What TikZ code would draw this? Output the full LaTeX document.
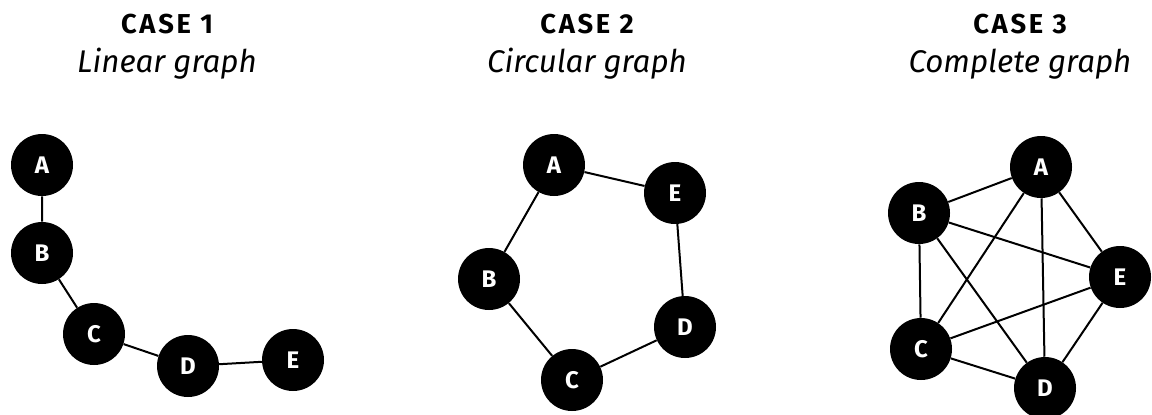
\documentclass[tikz,border=0pt]{standalone}
\usepackage{fontspec}
\setmainfont{Fira Sans}
\newfontfamily\casefont[LetterSpace=10,UprightFont={* Bold}]{Fira Sans}
\usepackage{tikz}

\begin{document}
\begin{tikzpicture}[x=0.75pt,y=-0.75pt,
  vertex/.style={circle,fill=black,draw=none,minimum size=46.5pt,inner sep=0pt,
    text=white,font=\fontsize{18}{18}\selectfont\bfseries},
  edge/.style={line width=1.5pt},
  casetitle/.style={font=\fontsize{20.5}{20.5}\selectfont\casefont},
  subtitle/.style={font=\fontsize{23.5}{23.5}\selectfont\itshape}]
\useasboundingbox (0,0) rectangle (1152,414);
% titles
\node[casetitle,anchor=base] (t1) at (167,33) {CASE 1};
\node[subtitle,anchor=base] (s1) at (167,72) {Linear graph};
\node[casetitle,anchor=base] (t2) at (587,33) {CASE 2};
\node[subtitle,anchor=base] (s2) at (587,72) {Circular graph};
\node[casetitle,anchor=base] (t3) at (1020,33) {CASE 3};
\node[subtitle,anchor=base] (s3) at (1020,72) {Complete graph};
% case 1
\node[vertex] (A1) at (42,165) {A};
\node[vertex] (B1) at (42,253) {B};
\node[vertex] (C1) at (94,334) {C};
\node[vertex] (D1) at (188,366) {D};
\node[vertex] (E1) at (293,360) {E};
\draw[edge] (A1) -- (B1) -- (C1) -- (D1) -- (E1);
% case 2
\node[vertex] (A2) at (554,165) {A};
\node[vertex] (E2) at (675,193) {E};
\node[vertex] (B2) at (489,279) {B};
\node[vertex] (D2) at (685,327) {D};
\node[vertex] (C2) at (572,380) {C};
\draw[edge] (A2) -- (E2) -- (D2) -- (C2) -- (B2) -- (A2);
% case 3
\node[vertex] (A3) at (1041,167) {A};
\node[vertex] (B3) at (919,213) {B};
\node[vertex] (E3) at (1120,277) {E};
\node[vertex] (C3) at (921,349) {C};
\node[vertex] (D3) at (1045,388) {D};
\foreach \u/\v in {A3/B3,A3/C3,A3/D3,A3/E3,B3/C3,B3/D3,B3/E3,C3/D3,C3/E3,D3/E3}
  \draw[edge] (\u) -- (\v);
\end{tikzpicture}
\end{document}
